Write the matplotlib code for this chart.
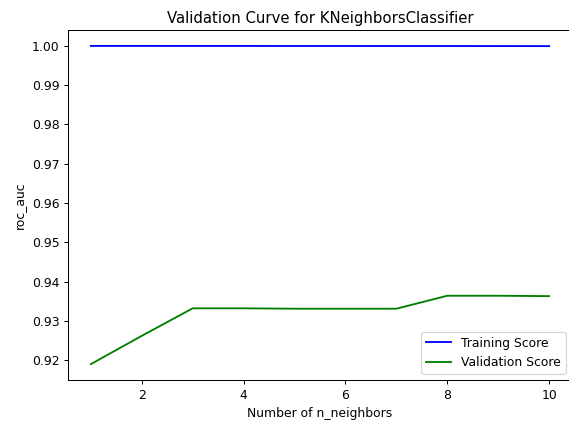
import matplotlib
matplotlib.use("Agg")
import matplotlib.pyplot as plt

n_neighbors = [1, 2, 3, 4, 5, 6, 7, 8, 9, 10]
train_scores = [1.0, 1.0, 0.99999, 0.99999, 0.99998, 0.99998, 0.99997, 0.99997, 0.99996, 0.99995]
val_scores = [0.9190, 0.9262, 0.9332, 0.9332, 0.9331, 0.9331, 0.9331, 0.9364, 0.9364, 0.9363]

DPI = 89
fig = plt.figure(figsize=(569/DPI, 421/DPI), dpi=DPI)
ax = fig.add_axes([68/569, 41/421, 504/569, 350/421])
ax.plot(n_neighbors, train_scores, color="blue", label="Training Score")
ax.plot(n_neighbors, val_scores, color="green", label="Validation Score")
ax.set_title("Validation Curve for KNeighborsClassifier")
ax.set_xlabel("Number of n_neighbors")
ax.set_ylabel("roc_auc")
ax.legend(loc="lower right")
fig.savefig("out.png", dpi=DPI)
